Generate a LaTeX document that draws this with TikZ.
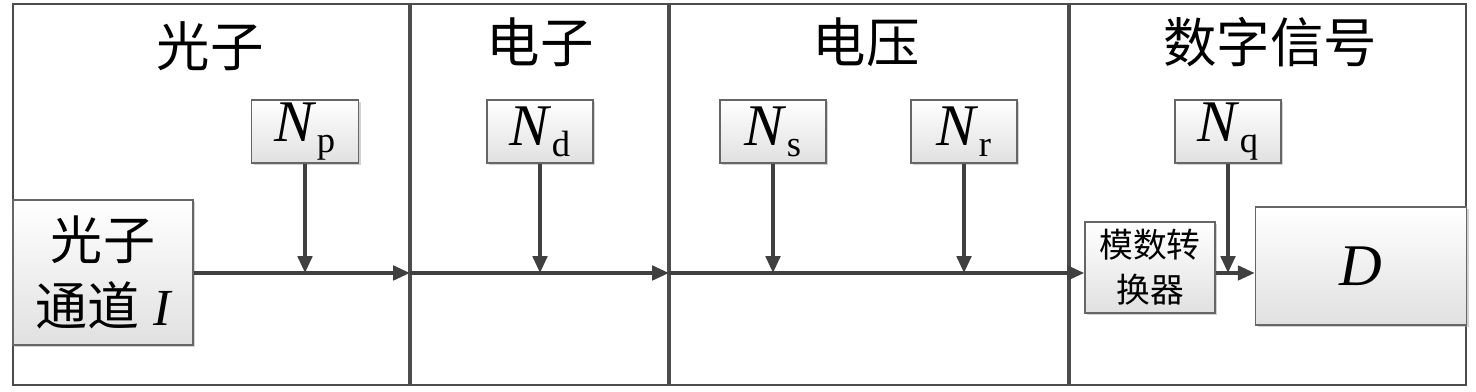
\documentclass[tikz,border=0pt]{standalone}
\usepackage{fontspec}
\setmainfont{Liberation Serif}
\newfontfamily\cjk{Noto Sans CJK SC}
\usetikzlibrary{arrows.meta,shadows}
\newcommand{\Nsub}[1]{\textit{N}\raisebox{-0.4ex}{\fontsize{26}{26}\selectfont #1}}
\begin{document}
\begin{tikzpicture}[x=0.025cm,y=-0.025cm,
  pane/.style={draw=black!70, line width=1.3pt, inner sep=0pt},
  nbox/.style={draw=black!60, line width=1.1pt, top color=white, bottom color=black!12,
     drop shadow={shadow xshift=1.5pt, shadow yshift=-1.5pt, fill=black!35, opacity=0.5},
     inner sep=0pt, font=\fontsize{42}{44}\selectfont},
  title/.style={font=\cjk\fontsize{38}{42}\selectfont, inner sep=0pt},
  flow/.style={line width=2.5pt, draw=black!75, -{Triangle[length=0.42cm,width=0.36cm]}}]
\useasboundingbox (0,0) rectangle (1476,392);
% panels
\node[pane, minimum width=9.9cm, minimum height=9.525cm] (p1) at (211,194.5) {};
\node[pane, minimum width=6.425cm, minimum height=9.525cm] (p2) at (539.5,194.5) {};
\node[pane, minimum width=9.95cm, minimum height=9.525cm] (p3) at (869,194.5) {};
\node[pane, minimum width=9.9cm, minimum height=9.525cm] (p4) at (1268,194.5) {};
% titles
\node[title] (t1) at (210,46) {光子};
\node[title] (t2) at (540,42) {电子};
\node[title] (t3) at (866,42) {电压};
\node[title] (t4) at (1270,42) {数字信号};
% noise boxes
\node[nbox, minimum width=2.675cm, minimum height=1.575cm] (np) at (305,131.5) {\Nsub{p}};
\node[nbox, minimum width=2.65cm, minimum height=1.575cm] (nd) at (540,131.5) {\Nsub{d}};
\node[nbox, minimum width=2.65cm, minimum height=1.575cm] (ns) at (773,131.5) {\Nsub{s}};
\node[nbox, minimum width=2.65cm, minimum height=1.575cm] (nr) at (964,131.5) {\Nsub{r}};
\node[nbox, minimum width=2.65cm, minimum height=1.575cm] (nq) at (1228,131.5) {\Nsub{q}};
% channel
\node[nbox, minimum width=4.5cm, minimum height=3.625cm, align=center,
      font=\cjk\fontsize{37}{47}\selectfont] (ch) at (103,272.5)
      {光子\\通道\;{\fontspec{Liberation Serif}\itshape I}};
\node[nbox, minimum width=3.25cm, minimum height=2.275cm, align=center,
      font=\cjk\fontsize{24}{32}\selectfont] (adc) at (1150,267.5) {模数转\\换器};
\node[nbox, minimum width=5.275cm, minimum height=2.95cm,
      font=\fontsize{42}{44}\selectfont\itshape] (d) at (1361,266) {D};
% flow
\coordinate (y0) at (0,273);
\draw[flow] (ch.east |- y0) -- (p1.east |- y0);
\draw[flow] (p2.west |- y0) -- (p2.east |- y0);
\draw[flow] (p3.west |- y0) -- (adc.west |- y0);
\draw[flow] (adc.east |- y0) -- (d.west |- y0);
% noise arrows
\draw[flow] (np.south) -- (np.south |- y0);
\draw[flow] (nd.south) -- (nd.south |- y0);
\draw[flow] (ns.south) -- (ns.south |- y0);
\draw[flow] (nr.south) -- (nr.south |- y0);
\draw[flow] (nq.south) -- (nq.south |- y0);
\end{tikzpicture}
\end{document}
